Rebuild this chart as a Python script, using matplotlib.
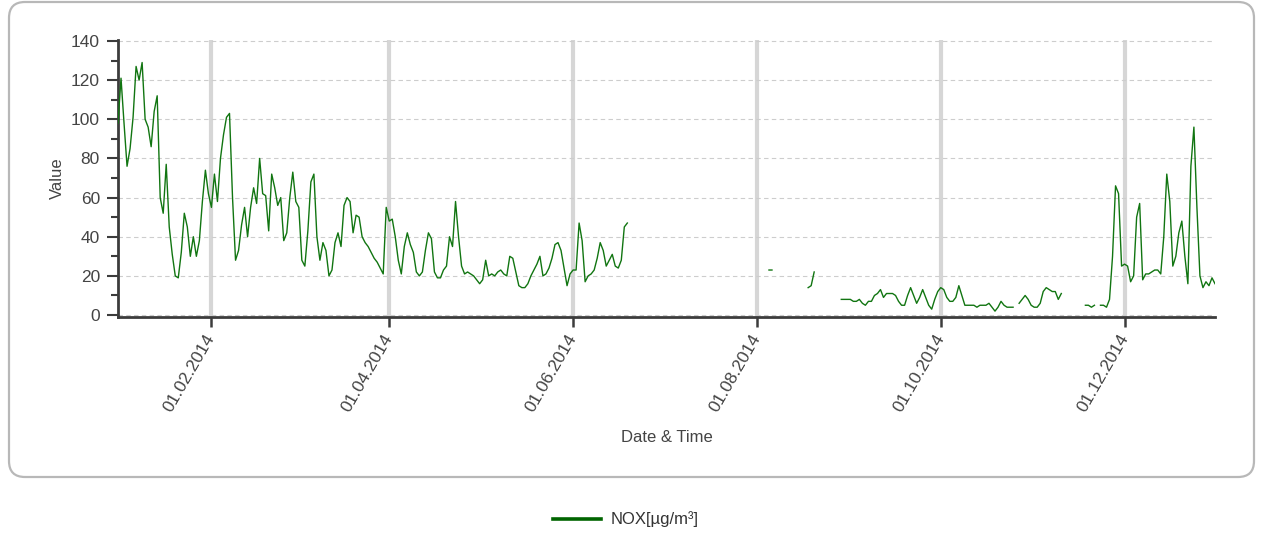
import matplotlib
matplotlib.use("Agg")
import matplotlib.pyplot as plt
import matplotlib.dates as mdates
from matplotlib.patches import FancyBboxPatch
from matplotlib.transforms import IdentityTransform
from matplotlib.lines import Line2D
from matplotlib.ticker import MultipleLocator
import numpy as np
import pandas as pd

plt.rcParams['font.family'] = ['Liberation Sans', 'DejaVu Sans']

# ---------------- data (daily values, gaps = missing days) ----------------
series_name = "NOX[µg/m³]"
x_label = "Date & Time"
y_label = "Value"
date_start = "2014-01-01"
date_end = "2014-12-31"

seg_a_start = "2014-01-01"
seg_a_values = [
    98, 121, 98, 76, 85, 101, 127, 120, 129, 100,
    96, 86, 104, 112, 60, 52, 77, 45, 31, 20,
    19, 32, 52, 45, 30, 40, 30, 38, 58, 74,
    62, 55, 72, 58, 80, 92, 101, 103, 60, 28,
    33, 46, 55, 40, 55, 65, 57, 80, 62, 61,
    43, 72, 65, 56, 60, 38, 42, 60, 73, 58,
    55, 28, 25, 43, 68, 72, 40, 28, 37, 33,
    20, 23, 37, 42, 35, 56, 60, 58, 42, 51,
    50, 40, 37, 35, 32, 29, 27, 24, 21, 55,
    48, 49, 40, 28, 21, 35, 42, 36, 32, 22,
    20, 22, 33, 42, 39, 22, 19, 19, 23, 25,
    40, 35, 58, 40, 25, 21, 22, 21, 20, 18,
    16, 18, 28, 20, 21, 20, 22, 23, 21, 20,
    30, 29, 22, 15, 14, 14, 16, 20, 23, 26,
    30, 20, 21, 24, 29, 36, 37, 33, 24, 15,
    21, 23, 23, 47, 38, 17, 20, 21, 23, 29,
    37, 33, 25, 28, 31, 25, 24, 28, 45, 47,
]
seg_b_start = "2014-08-05"
seg_b_values = [23, 23]
seg_c_start = "2014-08-18"
seg_c_values = [14, 15, 22]
seg_d_start = "2014-08-29"
seg_d_values = [
    8, 8, 8, 8, 7, 7, 8, 6, 5, 7,
    7, 10, 11, 13, 9, 11, 11, 11, 10, 7,
    5, 5, 10, 14, 10, 6, 9, 13, 9, 5,
    3, 8, 12, 14, 13, 9, 7, 7, 9, 15,
    10, 5, 5, 5, 5, 4, 5, 5, 5, 6,
    4, 2, 4, 7, 5, 4, 4, 4,
]
seg_e_start = "2014-10-27"
seg_e_values = [6, 8, 10, 8, 5, 4, 4, 6, 12, 14, 13, 12, 12, 8, 11]
seg_f_start = "2014-11-18"
seg_f_values = [5, 5, 4, 5]
seg_g_start = "2014-11-23"
seg_g_values = [
    5, 5, 4, 8, 30, 66, 62, 25, 26, 25,
    17, 20, 50, 57, 18, 21, 21, 22, 23, 23,
    21, 40, 72, 58, 25, 30, 42, 48, 30, 16,
    76, 96, 55, 20, 14, 17, 15, 19, 16,
]

tick_months = [2, 4, 6, 8, 10, 12]

segments = [
    (seg_a_start, seg_a_values), (seg_b_start, seg_b_values),
    (seg_c_start, seg_c_values), (seg_d_start, seg_d_values),
    (seg_e_start, seg_e_values), (seg_f_start, seg_f_values),
    (seg_g_start, seg_g_values),
]
days = pd.date_range(date_start, date_end, freq="D")
nox = pd.Series(np.nan, index=days)
for start, vals in segments:
    idx = pd.date_range(start, periods=len(vals), freq="D")
    nox.loc[idx] = vals

# ---------------- figure ----------------
W, H = 1269, 538
fig = plt.figure(figsize=(W / 100, H / 100), dpi=100)
fig.patch.set_facecolor("white")

# rounded frame
frame = FancyBboxPatch((9, H - 477), 1245, 475,
                       boxstyle="round,pad=0,rounding_size=16",
                       transform=IdentityTransform(), fill=False,
                       ec="#b8b8b8", lw=1.6)
fig.add_artist(frame)

ax_left, ax_right, ax_top, ax_bottom = 118, 1215, 40, 317
ax = fig.add_axes([ax_left / W, 1 - ax_bottom / H,
                   (ax_right - ax_left) / W, (ax_bottom - ax_top) / H])

ax.plot(nox.index, nox.values, color="#117511", lw=1.0, zorder=3)

ax.set_xlim(pd.Timestamp(date_start), pd.Timestamp(date_end))
ax.set_ylim(-1, 140.5)

axis_col = "#3c3c3c"
text_col = "#444444"
for side in ("top", "right"):
    ax.spines[side].set_visible(False)
for side in ("left", "bottom"):
    ax.spines[side].set_color(axis_col)
    ax.spines[side].set_linewidth(2.0)

ax.yaxis.set_major_locator(MultipleLocator(20))
ax.yaxis.set_minor_locator(MultipleLocator(10))
ax.tick_params(axis="y", which="major", length=8, width=1.5, color=axis_col,
               labelsize=12.5, labelcolor=text_col, pad=5)
ax.tick_params(axis="y", which="minor", length=5, width=1.5, color=axis_col)

ax.xaxis.set_major_locator(mdates.MonthLocator(bymonth=tick_months, bymonthday=1))
ax.xaxis.set_major_formatter(mdates.DateFormatter("%d.%m.%Y"))
ax.tick_params(axis="x", which="major", length=7, width=1.8, color=axis_col,
               labelsize=12.5, labelcolor=text_col, pad=6)
for lab in ax.get_xticklabels():
    lab.set_rotation(60)
    lab.set_ha("right")
    lab.set_va("center")
    lab.set_rotation_mode("anchor")

ax.set_axisbelow(True)
ax.yaxis.grid(True, which="major", color="#cdcdcd", ls=(0, (4, 3)), lw=0.8)
ax.xaxis.grid(True, which="major", color="#d6d6d6", lw=3.0)

ax.set_ylabel(y_label, fontsize=12, color=text_col, va="center")
ax.yaxis.set_label_coords((57 - ax_left) / (ax_right - ax_left), 0.5)
ax.set_xlabel(x_label, fontsize=12, color=text_col, va="center")
ax.xaxis.set_label_coords(0.5, (ax_bottom - 438) / (ax_bottom - ax_top))

# legend below frame
leg_y = 1 - 519 / H
fig.add_artist(Line2D([553 / W, 601 / W], [leg_y, leg_y], color="#006400",
                      lw=2.6, transform=fig.transFigure))
fig.text(611 / W, leg_y, series_name, fontsize=12, color="#333333",
         va="center", ha="left")

fig.savefig("out.png", dpi=100)
